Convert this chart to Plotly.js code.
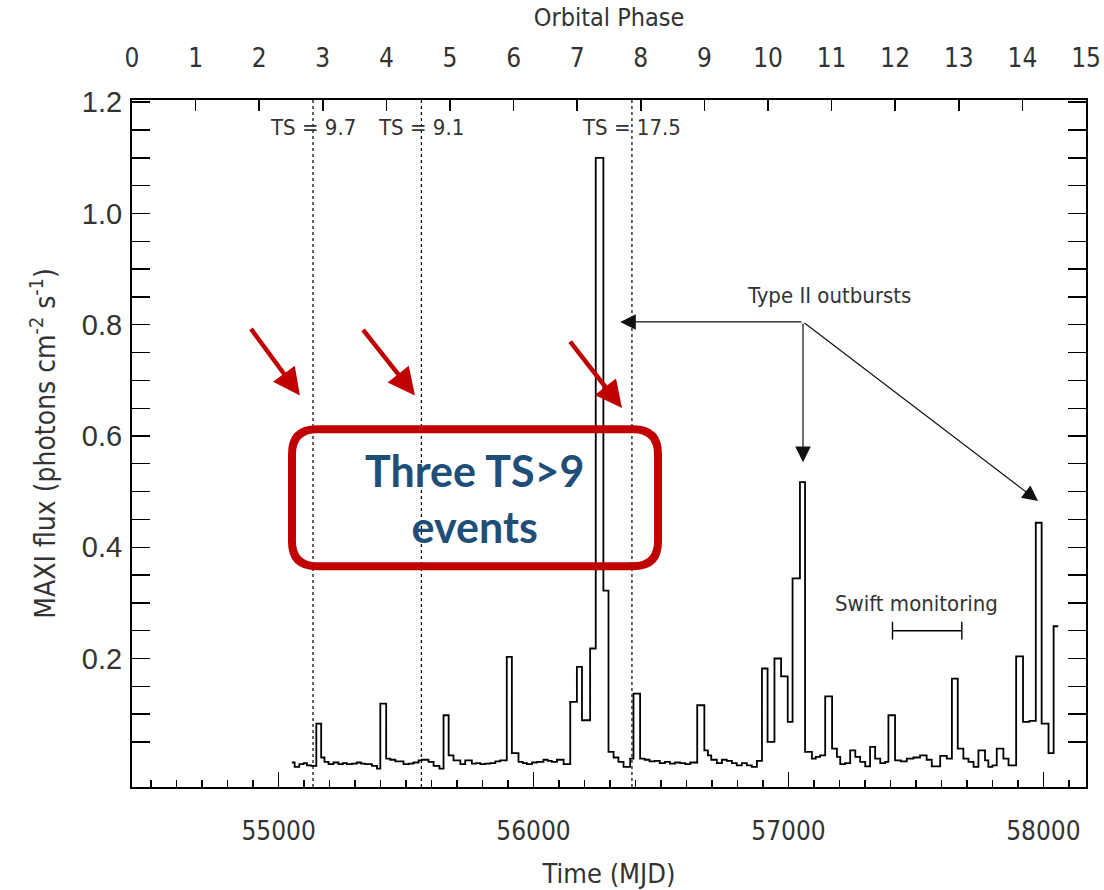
<!DOCTYPE html>
<html><head><meta charset="utf-8">
<script src="https://cdn.plot.ly/plotly-3.0.1.min.js"></script>
<style>html,body{margin:0;padding:0;background:#fff}#chart{width:1104px;height:890px}</style>
</head><body><div id="chart"></div>
<script>
// MAXI light curve (step histogram): bin start times (MJD) and flux
const binStartMJD = [
 55052,55063,55081,55098,55111,55128,55148,55167,55180,55196,
 55215,55235,55252,55268,55288,55307,55323,55340,55366,55386,
 55399,55422,55438,55458,55490,55510,55529,55549,55562,55588,
 55608,55631,55647,55667,55686,55713,55732,55758,55775,55791,
 55810,55830,55850,55869,55895,55915,55941,55958,55974,55994,
 56013,56039,56056,56072,56092,56118,56144,56170,56190,56222,
 56244,56274,56294,56314,56333,56353,56379,56392,56418,56436,
 56455,56475,56495,56515,56535,56555,56575,56595,56615,56642,
 56670,56684,56697,56719,56739,56758,56778,56797,56817,56837,
 56856,56876,56896,56918,56945,56971,56997,57016,57045,57065,
 57092,57107,57124,57144,57171,57190,57203,57222,57242,57262,
 57281,57301,57320,57340,57360,57379,57392,57418,57441,57464,
 57490,57516,57542,57562,57595,57621,57641,57664,57686,57706,
 57726,57745,57771,57784,57800,57817,57843,57863,57893,57920,
 57945,57970,57993,58020,58040
];
const fluxMAXI = [
 0.013,0.005,0.010,0.012,0.008,0.007,0.083,0.022,0.014,0.010,
 0.013,0.010,0.012,0.010,0.011,0.013,0.011,0.010,0.007,0.002,
 0.119,0.020,0.018,0.015,0.010,0.011,0.013,0.017,0.018,0.014,
 0.007,0.002,0.098,0.026,0.017,0.010,0.017,0.011,0.012,0.010,
 0.011,0.012,0.015,0.017,0.203,0.030,0.014,0.012,0.010,0.013,
 0.014,0.018,0.016,0.014,0.018,0.010,0.122,0.185,0.089,0.218,
 1.100,0.322,0.032,0.022,0.014,0.005,0.020,0.137,0.020,0.018,
 0.015,0.016,0.012,0.014,0.011,0.013,0.012,0.010,0.013,0.116,
 0.035,0.026,0.018,0.012,0.018,0.016,0.012,0.008,0.012,0.008,
 0.005,0.016,0.182,0.050,0.200,0.168,0.086,0.344,0.517,0.032,
 0.020,0.023,0.026,0.132,0.038,0.023,0.010,0.012,0.035,0.023,
 0.014,0.006,0.041,0.020,0.012,0.014,0.098,0.017,0.015,0.020,
 0.022,0.026,0.018,0.006,0.025,0.020,0.164,0.038,0.020,0.014,
 0.005,0.035,0.017,0.005,0.008,0.038,0.020,0.008,0.204,0.086,
 0.088,0.444,0.083,0.030,0.258
];
const lightcurveEndMJD = 58058;

const tsEventMJD = [55135, 55560, 56386];
const tsEventLabels = ['TS = 9.7', 'TS = 9.1', 'TS = 17.5'];
const tsLabelFlux = 1.154;

const mjdTickVals = [55000, 56000, 57000, 58000];
const phaseTickVals = [0,1,2,3,4,5,6,7,8,9,10,11,12,13,14,15];
const fluxTickVals = [0.2, 0.4, 0.6, 0.8, 1.0, 1.2];
const mjdRange = [54425, 58167];
const phaseRange = [0, 15];
const fluxRange = [-0.031, 1.204];

const typeIIHub = [57057, 0.805];
const typeIITargetMJD = [56340, 57057, 57979];
const typeIITargetFlux = [0.805, 0.553, 0.483];
const typeIILabelPos = [57160, 0.852];

const swiftWindowMJD = [57408, 57680];
const swiftLevel = 0.25;
const swiftLabelPos = [57504, 0.299];

// ---------- build ----------
const xs = binStartMJD.concat([lightcurveEndMJD]);
const ys = fluxMAXI.concat([fluxMAXI[fluxMAXI.length - 1]]);

const narrow = '"Liberation Sans Narrow", "DejaVu Sans Condensed", "Arial Narrow", sans-serif';
const txt = '#333333';

const traces = [
  {x: xs, y: ys, mode: 'lines', line: {shape: 'hv', color: '#000', width: 1.8},
   hoverinfo: 'x+y', showlegend: false},
  {x: phaseRange, y: [-5, -5], xaxis: 'x2', yaxis: 'y', mode: 'lines',
   line: {width: 0}, hoverinfo: 'skip', showlegend: false}
];

const minorFlux = [];
for (let v = 0.05; v < 1.21; v += 0.05) {
  const r = Math.round(v * 100) / 100;
  if (Math.abs(r / 0.2 - Math.round(r / 0.2)) > 1e-6) minorFlux.push(r);
}

const shapes = tsEventMJD.map(m => ({
  type: 'line', xref: 'x', yref: 'paper', x0: m, x1: m, y0: 0, y1: 1,
  line: {color: '#000', width: 1.2, dash: 'dot'}
}));
// Swift monitoring bracket
shapes.push({type: 'line', xref: 'x', yref: 'y', x0: swiftWindowMJD[0], x1: swiftWindowMJD[1],
  y0: swiftLevel, y1: swiftLevel, line: {color: '#000', width: 1.4}});
swiftWindowMJD.forEach(m => shapes.push({type: 'line', xref: 'x', yref: 'y', x0: m, x1: m,
  y0: swiftLevel - 0.016, y1: swiftLevel + 0.016, line: {color: '#000', width: 1.4}}));

// red rounded box (paper coords)
const bx1 = 0.1677, bx2 = 0.5514, byb = 0.3214, byt = 0.5209, rx = 0.0262, ry = 0.0364;
const boxPath = `M ${bx1+rx},${byt} L ${bx2-rx},${byt} Q ${bx2},${byt} ${bx2},${byt-ry} ` +
  `L ${bx2},${byb+ry} Q ${bx2},${byb} ${bx2-rx},${byb} L ${bx1+rx},${byb} ` +
  `Q ${bx1},${byb} ${bx1},${byb+ry} L ${bx1},${byt-ry} Q ${bx1},${byt} ${bx1+rx},${byt} Z`;
shapes.push({type: 'path', xref: 'paper', yref: 'paper', path: boxPath,
  line: {color: '#C00000', width: 8}, layer: 'above'});

const annotations = [];
tsEventMJD.forEach((m, i) => annotations.push({
  x: m, y: tsLabelFlux, xref: 'x', yref: 'y', text: tsEventLabels[i], showarrow: false,
  xanchor: 'center', yanchor: 'middle', font: {family: narrow, size: 22, color: txt}
}));
annotations.push({x: typeIILabelPos[0], y: typeIILabelPos[1], xref: 'x', yref: 'y',
  text: 'Type II outbursts', showarrow: false, font: {family: narrow, size: 22, color: txt}});
typeIITargetMJD.forEach((m, i) => annotations.push({
  x: m, y: typeIITargetFlux[i], xref: 'x', yref: 'y', ax: typeIIHub[0], ay: typeIIHub[1],
  axref: 'x', ayref: 'y', text: '', showarrow: true, arrowhead: 2, arrowsize: 2.6,
  arrowwidth: 1.2, arrowcolor: '#111'
}));
annotations.push({x: swiftLabelPos[0], y: swiftLabelPos[1], xref: 'x', yref: 'y',
  text: 'Swift monitoring', showarrow: false, font: {family: narrow, size: 22, color: txt}});

// red pointer arrows (paper coords, tails offset in px)
[[0.176, 0.570, -50, -68], [0.2966, 0.570, -53, -67], [0.5136, 0.5515, -53, -68]].forEach(a =>
  annotations.push({x: a[0], y: a[1], xref: 'paper', yref: 'paper', ax: a[2], ay: a[3],
    text: '', showarrow: true, arrowhead: 2, arrowsize: 1.2, arrowwidth: 4.5, arrowcolor: '#C00000'}));

annotations.push({x: 0.3595, y: 0.4204, xref: 'paper', yref: 'paper', showarrow: false,
  text: '<b>Three TS&gt;9</b><br><b>events</b>', align: 'center',
  font: {family: 'Lato, "Open Sans", sans-serif', size: 43, color: '#1F4E79'}});

const layout = {
  width: 1104, height: 890,
  margin: {l: 132, r: 18, t: 100, b: 103},
  paper_bgcolor: '#fff', plot_bgcolor: '#fff',
  showlegend: false,
  xaxis: {
    range: mjdRange, tickmode: 'array', tickvals: mjdTickVals, ticktext: mjdTickVals.map(String),
    ticks: 'inside', ticklen: 15, tickwidth: 1.5, tickcolor: '#000',
    minor: {dtick: 100, tick0: 0, ticks: 'inside', ticklen: 7, tickwidth: 1.3, tickcolor: '#000'},
    showline: true, linecolor: '#000', linewidth: 2, mirror: true, showgrid: false, zeroline: false,
    tickfont: {family: narrow, size: 26, color: txt}, ticklabelstandoff: 20,
    title: {text: 'Time (MJD)', font: {family: narrow, size: 27, color: txt}, standoff: 19}
  },
  xaxis2: {
    overlaying: 'x', side: 'top', anchor: 'y', range: phaseRange,
    tickmode: 'array', tickvals: phaseTickVals, ticktext: phaseTickVals.map(String),
    ticks: 'inside', ticklen: 11, tickwidth: 1.5, tickcolor: '#000',
    showline: true, linecolor: '#000', linewidth: 2, showgrid: false, zeroline: false,
    tickfont: {family: narrow, size: 26, color: txt}, ticklabelstandoff: 21,
    title: {text: 'Orbital Phase', font: {family: narrow, size: 25, color: txt}, standoff: 9}
  },
  yaxis: {
    range: fluxRange, tickmode: 'array', tickvals: fluxTickVals,
    ticktext: fluxTickVals.map(v => v.toFixed(1)),
    ticks: 'inside', ticklen: 18, tickwidth: 1.5, tickcolor: '#000',
    minor: {tickmode: 'array', tickvals: minorFlux, ticks: 'inside', ticklen: 10, tickwidth: 1.3, tickcolor: '#000'},
    showline: true, linecolor: '#000', linewidth: 2, mirror: 'allticks', showgrid: false, zeroline: false,
    tickfont: {family: '"Liberation Sans", Arial, sans-serif', size: 29, color: txt}, ticklabelstandoff: 2,
    title: {text: 'MAXI flux (photons cm<sup>-2</sup> s<sup>-1</sup>)', font: {family: narrow, size: 28, color: txt}, standoff: 18}
  },
  shapes: shapes,
  annotations: annotations
};

Plotly.newPlot('chart', traces, layout, {displayModeBar: false, staticPlot: true});
</script>
</body></html>
